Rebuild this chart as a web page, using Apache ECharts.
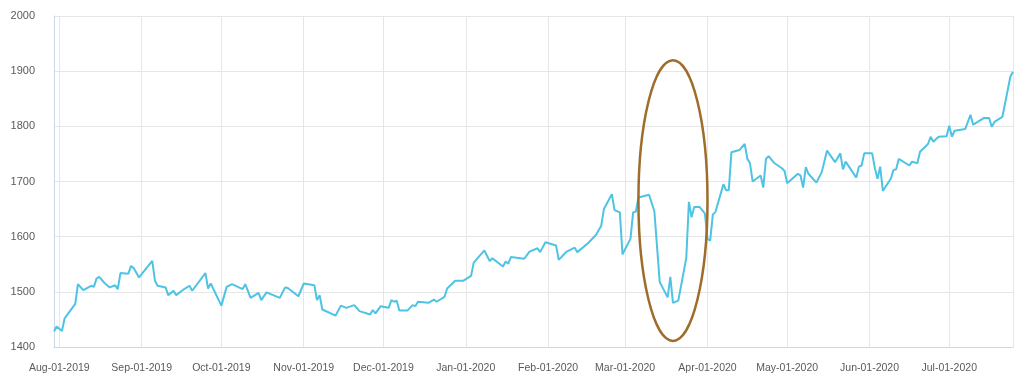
<!DOCTYPE html>
<html>
<head>
<meta charset="utf-8">
<script src="https://cdn.jsdelivr.net/npm/echarts@6/dist/echarts.min.js"></script>
<style>
html,body{margin:0;padding:0;background:#fff;}
#c{width:1024px;height:391px;}
</style>
</head>
<body>
<div id="c"></div>
<script>
// ---- data ----
const dates = [
 '2019-07-30','2019-07-31','2019-08-02','2019-08-03','2019-08-07','2019-08-08','2019-08-10','2019-08-13','2019-08-14','2019-08-15',
 '2019-08-16','2019-08-18','2019-08-20','2019-08-22','2019-08-23','2019-08-24','2019-08-27','2019-08-28','2019-08-29','2019-08-31',
 '2019-09-05','2019-09-06','2019-09-07','2019-09-10','2019-09-11','2019-09-13','2019-09-14','2019-09-17','2019-09-19','2019-09-20',
 '2019-09-25','2019-09-26','2019-09-27','2019-10-01','2019-10-03','2019-10-05','2019-10-09','2019-10-10','2019-10-12','2019-10-15',
 '2019-10-16','2019-10-18','2019-10-23','2019-10-25','2019-10-26','2019-10-30','2019-11-01','2019-11-05','2019-11-06','2019-11-07',
 '2019-11-08','2019-11-13','2019-11-15','2019-11-17','2019-11-20','2019-11-22','2019-11-26','2019-11-27','2019-11-28','2019-11-30',
 '2019-12-03','2019-12-04','2019-12-05','2019-12-06','2019-12-07','2019-12-10','2019-12-12','2019-12-13','2019-12-14','2019-12-18',
 '2019-12-20','2019-12-21','2019-12-24','2019-12-25','2019-12-28','2019-12-31','2020-01-03','2020-01-04','2020-01-08','2020-01-10',
 '2020-01-11','2020-01-15','2020-01-16','2020-01-17','2020-01-18','2020-01-23','2020-01-25','2020-01-28','2020-01-29','2020-01-31',
 '2020-02-04','2020-02-05','2020-02-08','2020-02-11','2020-02-12','2020-02-16','2020-02-19','2020-02-21','2020-02-22','2020-02-25',
 '2020-02-26','2020-02-28','2020-02-29','2020-03-03','2020-03-04','2020-03-05','2020-03-06','2020-03-10','2020-03-12','2020-03-14',
 '2020-03-17','2020-03-18','2020-03-19','2020-03-21','2020-03-24','2020-03-25','2020-03-26','2020-03-27','2020-03-29','2020-03-31',
 '2020-04-01','2020-04-02','2020-04-03','2020-04-04','2020-04-07','2020-04-08','2020-04-09','2020-04-10','2020-04-13','2020-04-15',
 '2020-04-16','2020-04-17','2020-04-18','2020-04-21','2020-04-22','2020-04-23','2020-04-24','2020-04-26','2020-04-29','2020-04-30',
 '2020-05-01','2020-05-05','2020-05-06','2020-05-07','2020-05-08','2020-05-09','2020-05-12','2020-05-14','2020-05-16','2020-05-19',
 '2020-05-21','2020-05-22','2020-05-23','2020-05-27','2020-05-28','2020-05-29','2020-05-30','2020-06-02','2020-06-03','2020-06-04',
 '2020-06-05','2020-06-06','2020-06-09','2020-06-10','2020-06-11','2020-06-12','2020-06-16','2020-06-17','2020-06-19','2020-06-20',
 '2020-06-23','2020-06-24','2020-06-25','2020-06-27','2020-06-30','2020-07-01','2020-07-02','2020-07-03','2020-07-07','2020-07-09',
 '2020-07-10','2020-07-14','2020-07-16','2020-07-17','2020-07-18','2020-07-21','2020-07-24','2020-07-25'
];
const values = [
 1428,1437,1429,1452,1478,1514,1503,1511,1509,1524,
 1527,1516,1508,1512,1505,1534,1533,1547,1543,1526,
 1556,1520,1511,1508,1494,1502,1494,1505,1511,1502,
 1534,1506,1515,1475,1509,1514,1505,1514,1489,1498,
 1485,1499,1489,1508,1507,1492,1515,1512,1485,1494,
 1468,1457,1475,1471,1476,1465,1459,1467,1461,1474,
 1471,1485,1482,1484,1466,1466,1476,1474,1482,1480,
 1486,1482,1491,1506,1520,1520,1529,1553,1575,1556,
 1561,1546,1555,1551,1563,1560,1573,1579,1572,1590,
 1584,1558,1573,1580,1572,1588,1603,1620,1650,1677,
 1648,1644,1568,1596,1644,1645,1671,1676,1646,1518,
 1490,1527,1480,1484,1561,1663,1635,1654,1654,1642,
 1596,1593,1640,1645,1695,1684,1684,1753,1757,1768,
 1741,1733,1700,1711,1689,1741,1746,1734,1724,1719,
 1697,1714,1711,1689,1726,1714,1698,1717,1756,1735,
 1751,1722,1736,1707,1727,1729,1751,1751,1724,1705,
 1727,1683,1705,1721,1722,1741,1729,1736,1733,1754,
 1768,1781,1772,1781,1782,1801,1781,1792,1795,1821,
 1803,1815,1815,1799,1808,1817,1890,1899
];
const axisStart = '2019-07-30';
const axisEnd = '2020-07-25';
const yTicks = [1400, 1500, 1600, 1700, 1800, 1900, 2000];
const monthNames = ['Jan','Feb','Mar','Apr','May','Jun','Jul','Aug','Sep','Oct','Nov','Dec'];
// highlight ellipse bounds in data space: [left date, right date], [bottom value, top value]
const ellipseDates = ['2020-03-06', '2020-04-01'];
const ellipseValues = [1411, 1920];

const seriesData = dates.map((d, i) => [d, values[i]]);
const font = 'Liberation Sans, Arial, Helvetica, sans-serif';

const chart = echarts.init(document.getElementById('c'), null, {renderer: 'canvas'});
chart.setOption({
  animation: false,
  backgroundColor: '#ffffff',
  grid: {left: 54, right: 11, top: 16, bottom: 44, containLabel: false},
  xAxis: {
    type: 'time',
    min: axisStart,
    max: axisEnd,
    minInterval: 28 * 864e5,
    maxInterval: 31 * 864e5,
    axisLine: {show: true, lineStyle: {color: '#ccd6eb', width: 1}},
    axisTick: {show: false},
    splitLine: {show: true, lineStyle: {color: '#e6e6e6', width: 1}},
    axisLabel: {
      showMinLabel: false,
      showMaxLabel: false,
      margin: 16,
      color: '#5a5a5a',
      fontSize: 10.5,
      fontFamily: font,
      formatter: function (v) {
        const d = new Date(v);
        const dd = String(d.getDate()).padStart(2, '0');
        return monthNames[d.getMonth()] + '-' + dd + '-' + d.getFullYear();
      }
    }
  },
  yAxis: {
    type: 'value',
    min: yTicks[0],
    max: yTicks[yTicks.length - 1],
    interval: 100,
    axisLine: {show: true, lineStyle: {color: '#ccd6eb', width: 1}},
    axisTick: {show: false},
    splitLine: {show: true, lineStyle: {color: '#e6e6e6', width: 1}},
    axisLabel: {
      margin: 19,
      color: '#5a5a5a',
      fontSize: 11,
      fontFamily: font,
      padding: [0, 0, 6, 0],
      formatter: function (v) { return String(v); }
    }
  },
  series: [{
    type: 'line',
    data: seriesData,
    showSymbol: false,
    smooth: false,
    lineStyle: {color: '#4ec3e4', width: 2},
    itemStyle: {color: '#4ec3e4'}
  }]
});

// place the highlight ellipse from data coordinates
const p1 = chart.convertToPixel({gridIndex: 0}, [ellipseDates[0], ellipseValues[1]]);
const p2 = chart.convertToPixel({gridIndex: 0}, [ellipseDates[1], ellipseValues[0]]);
chart.setOption({
  graphic: [{
    type: 'ellipse',
    shape: {
      cx: (p1[0] + p2[0]) / 2,
      cy: (p1[1] + p2[1]) / 2,
      rx: Math.abs(p2[0] - p1[0]) / 2,
      ry: Math.abs(p2[1] - p1[1]) / 2
    },
    style: {fill: 'none', stroke: '#9e6c2b', lineWidth: 2.5},
    z: 100
  }]
});
</script>
</body>
</html>
